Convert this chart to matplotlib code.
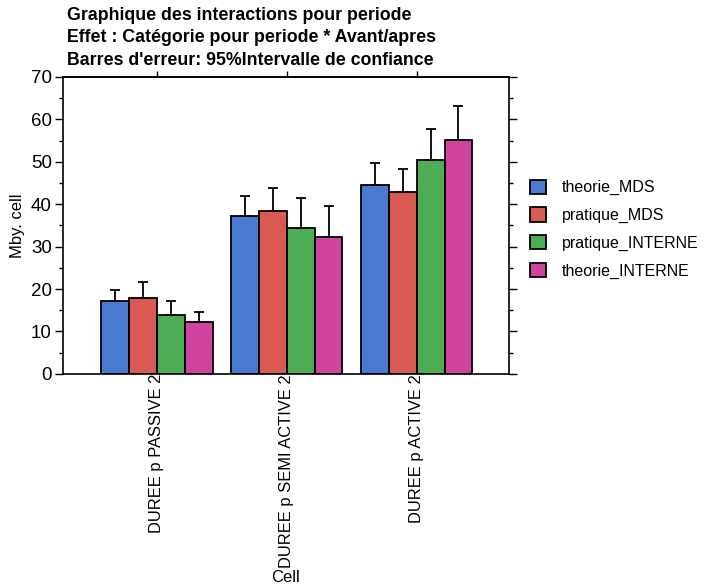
import numpy as np
import matplotlib.pyplot as plt
from matplotlib.ticker import MultipleLocator

plt.rcParams['font.family'] = ['Liberation Sans', 'DejaVu Sans']

# donnees
categories = ["DUREE p PASSIVE 2", "DUREE p SEMI ACTIVE 2", "DUREE p ACTIVE 2"]
series = ["theorie_MDS", "pratique_MDS", "pratique_INTERNE", "theorie_INTERNE"]
moyennes = [
    [17.2, 37.3, 44.6],   # theorie_MDS
    [18.0, 38.3, 42.8],   # pratique_MDS
    [13.8, 34.3, 50.5],   # pratique_INTERNE
    [12.2, 32.2, 55.2],   # theorie_INTERNE
]
ic_haut = [
    [19.8, 42.0, 49.7],
    [21.6, 43.9, 48.3],
    [17.2, 41.4, 57.8],
    [14.5, 39.5, 63.2],
]
couleurs = ["#4a7bd0", "#d95a55", "#4cad55", "#d0449f"]

fig = plt.figure(figsize=(7.03, 5.87), dpi=100)
ax = fig.add_axes([0.0896, 0.363, 0.634, 0.506])

x = np.arange(len(categories))
largeur = 0.214
for i, nom in enumerate(series):
    pos = x + (i - 1.5) * largeur
    m = np.array(moyennes[i])
    err = np.array(ic_haut[i]) - m
    ax.bar(pos, m, width=largeur, color=couleurs[i], edgecolor="black",
           linewidth=1.3, label=nom, zorder=2)
    ax.errorbar(pos, m, yerr=[np.zeros_like(err), err], fmt="none",
                ecolor="black", elinewidth=1.3, capsize=3.5, capthick=1.3, zorder=3)

ax.set_xlim(-0.723, 2.708)
ax.set_ylim(0, 70)
ax.yaxis.set_major_locator(MultipleLocator(10))
ax.yaxis.set_minor_locator(MultipleLocator(5))
ax.tick_params(axis="y", which="major", length=6, width=1, labelsize=13.5,
               right=True, direction="out", pad=2)
ax.tick_params(axis="y", which="minor", length=3, width=1, right=True, direction="out")
ax.set_xticks(x)
ax.set_xticklabels(categories, rotation=90, fontsize=11.9, va="top")
ax.tick_params(axis="x", length=0, top=False, pad=0)
# ticks du haut
sec = ax.secondary_xaxis("top")
sec.set_xticks(x)
sec.set_xticklabels([])
sec.tick_params(length=4, width=1, direction="out")
for s in ax.spines.values():
    s.set_linewidth(1.2)
sec.spines["top"].set_linewidth(1.2)

ax.set_ylabel("Mby. cell", fontsize=12, labelpad=4)
ax.set_xlabel("Cell", fontsize=12, labelpad=2)

fig.text(0.095, 0.988, "Graphique des interactions pour periode", fontsize=12.8,
         fontweight="bold", va="top")
fig.text(0.095, 0.950, "Effet : Catégorie pour periode * Avant/apres", fontsize=12.8,
         fontweight="bold", va="top")
fig.text(0.095, 0.911, "Barres d'erreur: 95%Intervalle de confiance", fontsize=12.8,
         fontweight="bold", va="top")

fig.legend(loc="upper left", bbox_to_anchor=(0.745, 0.705), frameon=False,
           fontsize=11.5, handlelength=1.0, handleheight=1.0, labelspacing=0.75,
           handletextpad=1.0, borderaxespad=0)

fig.savefig("out.png", dpi=100)
